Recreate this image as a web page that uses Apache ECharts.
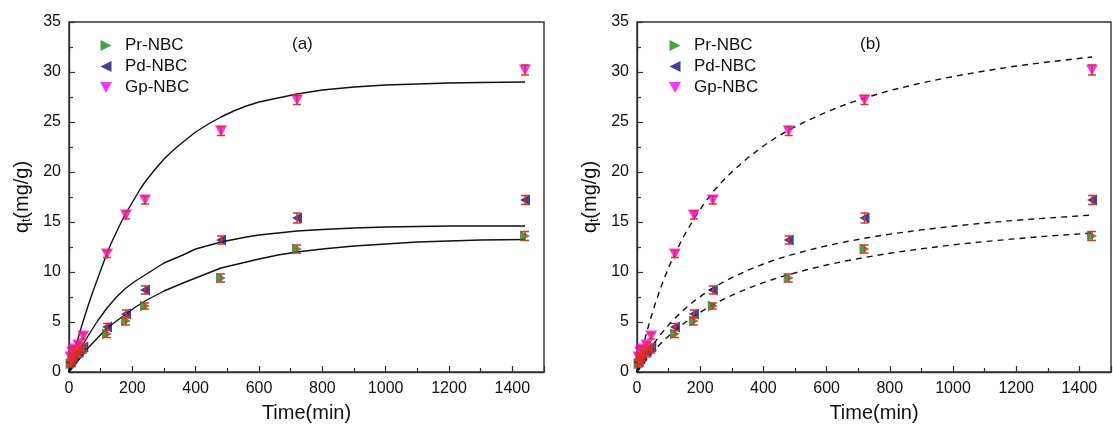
<!DOCTYPE html>
<html>
<head>
<meta charset="utf-8">
<script src="https://cdn.jsdelivr.net/npm/echarts@6/dist/echarts.min.js"></script>
<style>
html,body{margin:0;padding:0;background:#fff;}
#c{width:1113px;height:428px;}
</style>
</head>
<body>
<div id="c"></div>
<script>
// ---- data ----
const times = [5, 10, 15, 30, 45, 120, 180, 240, 480, 720, 1440];
const prValues = [0.8, 1.1, 1.4, 1.8, 2.2, 3.8, 5.1, 6.6, 9.4, 12.3, 13.6];
const pdValues = [1.0, 1.3, 1.6, 2.0, 2.5, 4.5, 5.8, 8.2, 13.2, 15.4, 17.2];
const gpValues = [1.5, 2.0, 2.3, 2.7, 3.6, 11.8, 15.7, 17.2, 24.1, 27.2, 30.2];
const prErrors = [0.3, 0.3, 0.3, 0.3, 0.3, 0.35, 0.4, 0.3, 0.4, 0.4, 0.45];
const pdErrors = [0.3, 0.3, 0.3, 0.3, 0.3, 0.35, 0.4, 0.4, 0.4, 0.5, 0.45];
const gpErrors = [0.3, 0.3, 0.3, 0.3, 0.3, 0.35, 0.4, 0.4, 0.45, 0.45, 0.5];

// fitted curves, panel (a) (solid)
const fitTimesA = [0, 10, 20, 30, 40, 50, 60, 75, 90, 105, 120, 135, 150, 165, 180, 195, 210, 225, 240, 270, 300, 330, 360, 400, 440, 480, 520, 560, 600, 660, 720, 800, 900, 1000, 1100, 1200, 1300, 1440];
const prFitA = [0, 0.4, 0.8, 1.2, 1.6, 2.0, 2.4, 2.9, 3.4, 3.9, 4.4, 4.75, 5.1, 5.45, 5.8, 6.15, 6.5, 6.8, 7.1, 7.6, 8.1, 8.5, 8.9, 9.4, 9.9, 10.4, 10.7, 11.0, 11.3, 11.7, 12.0, 12.3, 12.6, 12.8, 13.0, 13.1, 13.2, 13.25];
const pdFitA = [0, 0.65, 1.3, 1.9, 2.5, 3.05, 3.6, 4.35, 5.1, 5.75, 6.4, 6.95, 7.5, 7.95, 8.4, 8.75, 9.1, 9.4, 9.7, 10.3, 10.9, 11.3, 11.7, 12.3, 12.65, 13.0, 13.25, 13.5, 13.7, 13.9, 14.1, 14.25, 14.4, 14.5, 14.55, 14.6, 14.6, 14.6];
const gpFitA = [0, 1.25, 2.4, 3.5, 4.6, 5.6, 6.6, 8.0, 9.3, 10.6, 11.9, 13.0, 14.0, 15.0, 15.9, 16.7, 17.5, 18.3, 19.0, 20.2, 21.3, 22.2, 23.0, 24.0, 24.8, 25.5, 26.1, 26.6, 27.0, 27.4, 27.8, 28.2, 28.5, 28.7, 28.8, 28.9, 28.95, 29.0];

// fitted curves, panel (b) (dashed)
const fitTimesB = [0, 10, 20, 30, 40, 50, 60, 75, 90, 105, 120, 150, 180, 210, 240, 270, 300, 350, 400, 440, 480, 540, 600, 660, 720, 800, 900, 1000, 1100, 1200, 1300, 1440];
const prFitB = [0, 0.44, 0.86, 1.26, 1.64, 2.0, 2.35, 2.85, 3.31, 3.74, 4.15, 4.9, 5.57, 6.17, 6.72, 7.21, 7.67, 8.35, 8.94, 9.36, 9.74, 10.25, 10.7, 11.1, 11.45, 11.88, 12.32, 12.72, 13.04, 13.33, 13.59, 13.9];
const pdFitB = [0, 0.6, 1.17, 1.7, 2.21, 2.68, 3.13, 3.76, 4.34, 4.88, 5.38, 6.28, 7.07, 7.76, 8.38, 8.94, 9.44, 10.17, 10.8, 11.25, 11.64, 12.17, 12.62, 13.02, 13.37, 13.79, 14.21, 14.58, 14.9, 15.17, 15.4, 15.7];
const gpFitB = [0, 1.4, 2.69, 3.89, 5.02, 6.07, 7.05, 8.42, 9.66, 10.8, 11.85, 13.7, 15.3, 16.73, 18.0, 19.06, 20.0, 21.4, 22.6, 23.45, 24.2, 25.15, 26.0, 26.75, 27.4, 28.15, 28.9, 29.55, 30.1, 30.6, 31.0, 31.5];

const seriesNames = ['Pr-NBC', 'Pd-NBC', 'Gp-NBC'];
const panelLabels = ['(a)', '(b)'];
const xAxisName = 'Time(min)';

// ---- styling ----
const FONT = '"Liberation Sans", Arial, sans-serif';
const colors = ['#1a8a1a', '#10107a', '#ff00ff'];
const errColor = '#e0302a';
const symRight = 'path://M0,0 L10,5 L0,10 Z';
const symLeft = 'path://M10,0 L0,5 L10,10 Z';
const symDown = 'path://M0,0 L10,0 L5,9 Z';
const symbols = [symRight, symLeft, symDown];
const values = [prValues, pdValues, gpValues];
const errors = [prErrors, pdErrors, gpErrors];
const fitsA = [prFitA, pdFitA, gpFitA];
const fitsB = [prFitB, pdFitB, gpFitB];

function pairs(xs, ys) { return xs.map((x, i) => [x, ys[i]]); }
function errData(xs, ys, es) { return xs.map((x, i) => [x, ys[i] - es[i], ys[i] + es[i]]); }

function errorRender(params, api) {
  const x = api.value(0);
  const lo = api.coord([x, api.value(1)]);
  const hi = api.coord([x, api.value(2)]);
  const hw = 4;
  const st = { stroke: errColor, lineWidth: 1.5 };
  return {
    type: 'group',
    children: [
      { type: 'line', shape: { x1: lo[0], y1: lo[1], x2: hi[0], y2: hi[1] }, style: st },
      { type: 'line', shape: { x1: lo[0] - hw, y1: lo[1], x2: lo[0] + hw, y2: lo[1] }, style: st },
      { type: 'line', shape: { x1: hi[0] - hw, y1: hi[1], x2: hi[0] + hw, y2: hi[1] }, style: st }
    ]
  };
}

const grids = [
  { left: 69, top: 22, width: 475, height: 351 },
  { left: 637, top: 22, width: 474, height: 351 }
];

function makeX(i) {
  return {
    type: 'value', gridIndex: i, min: 0, max: 1500, interval: 200,
    name: xAxisName, nameLocation: 'middle', nameGap: 31,
    nameTextStyle: { fontFamily: FONT, fontSize: 20, color: '#111' },
    axisLine: { show: true, onZero: false, lineStyle: { color: '#333', width: 1.4 } },
    axisTick: { show: true, inside: true, length: 6, lineStyle: { color: '#333', width: 1.2 } },
    minorTick: { show: true, splitNumber: 2, length: 4, lineStyle: { color: '#333', width: 1.2 } },
    axisLabel: { fontFamily: FONT, fontSize: 16, color: '#111', margin: 9, showMaxLabel: false, formatter: v => String(v) },
    splitLine: { show: false }
  };
}
function makeY(i) {
  return {
    type: 'value', gridIndex: i, min: 0, max: 35, interval: 5,
    name: '{a|q}{b|t}{a|(mg/g)}', nameLocation: 'middle', nameGap: 36, nameRotate: 90,
    nameTextStyle: {
      fontFamily: FONT, color: '#111',
      rich: {
        a: { fontFamily: FONT, fontSize: 20, color: '#111' },
        b: { fontFamily: FONT, fontSize: 12, color: '#111', verticalAlign: 'bottom', padding: [10, 0, 0, 0] }
      }
    },
    axisLine: { show: true, onZero: false, lineStyle: { color: '#333', width: 1.4 } },
    axisTick: { show: true, inside: true, length: 6, lineStyle: { color: '#333', width: 1.2 } },
    minorTick: { show: true, splitNumber: 2, length: 4, lineStyle: { color: '#333', width: 1.2 } },
    axisLabel: { fontFamily: FONT, fontSize: 16, color: '#111', margin: 8 },
    splitLine: { show: false }
  };
}

const series = [];
[0, 1].forEach(p => {
  const fits = p === 0 ? fitsA : fitsB;
  const ft = p === 0 ? fitTimesA : fitTimesB;
  for (let s = 0; s < 3; s++) {
    series.push({
      type: 'line', name: 'fit' + p + s, xAxisIndex: p, yAxisIndex: p,
      data: pairs(ft, fits[s]), smooth: false, showSymbol: false, symbol: 'none',
      lineStyle: { color: '#111', width: 1.4, type: p === 0 ? 'solid' : [6, 5], join: 'round' },
      z: 2, silent: true
    });
  }
  for (let s = 0; s < 3; s++) {
    series.push({
      type: 'scatter', name: seriesNames[s], xAxisIndex: p, yAxisIndex: p,
      data: pairs(times, values[s]), symbol: symbols[s], symbolSize: s === 2 ? [12, 11] : [10, 11],
      itemStyle: { color: colors[s] }, z: 3
    });
    series.push({
      type: 'custom', name: 'err' + p + s, xAxisIndex: p, yAxisIndex: p,
      data: errData(times, values[s], errors[s]), renderItem: errorRender, z: 4, silent: true
    });
  }
});

function makeLegend(left) {
  return {
    orient: 'vertical', left: left, top: 32, itemGap: 4, itemWidth: 12, itemHeight: 11,
    textStyle: { fontFamily: FONT, fontSize: 17, color: '#111', padding: [0, 0, 0, 8] },
    data: seriesNames.map((n, i) => ({ name: n, icon: symbols[i], itemStyle: { color: colors[i] } })),
    selectedMode: false
  };
}

const option = {
  backgroundColor: '#fff',
  animation: false,
  grid: grids.map(g => Object.assign({ show: true, borderColor: '#333', borderWidth: 1.4, backgroundColor: 'transparent' }, g)),
  xAxis: [makeX(0), makeX(1)],
  yAxis: [makeY(0), makeY(1)],
  legend: [makeLegend(95), makeLegend(664)],
  title: [
    { text: panelLabels[0], left: 287, top: 31, textStyle: { fontFamily: FONT, fontSize: 17, fontWeight: 'normal', color: '#111' } },
    { text: panelLabels[1], left: 855, top: 31, textStyle: { fontFamily: FONT, fontSize: 17, fontWeight: 'normal', color: '#111' } }
  ],
  series: series
};

const chart = echarts.init(document.getElementById('c'), null, { renderer: 'canvas' });
chart.setOption(option);
</script>
</body>
</html>
